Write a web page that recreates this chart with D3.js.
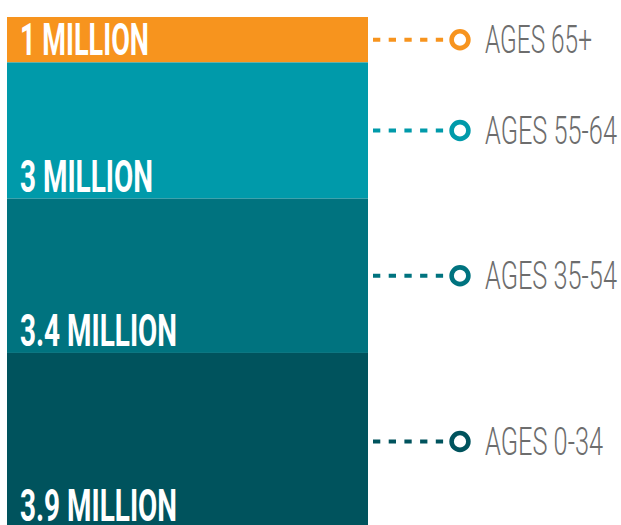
<!DOCTYPE html>
<html><head><meta charset="utf-8">
<script src="https://cdn.jsdelivr.net/npm/d3@7"></script>
<style>html,body{margin:0;padding:0;background:#fff;overflow:hidden}</style>
</head><body>
<svg id="c" width="621" height="525"></svg>
<script>
const groups = ["AGES 65+", "AGES 55-64", "AGES 35-54", "AGES 0-34"];
const values = [1, 3, 3.4, 3.9];
const valueLabels = ["1 MILLION", "3 MILLION", "3.4 MILLION", "3.9 MILLION"];
const colors = ["#F7941E", "#009AAA", "#00737F", "#00535D"];
const labelWidths = [129, 133, 157, 157];
const legendWidths = [107, 132, 132, 118];

const svg = d3.select("#c");
const total = d3.sum(values);
const ends = Array.from(d3.cumsum(values));
const starts = ends.map((e, i) => e - values[i]);
const y = d3.scaleLinear().domain([0, total]).range([17, 530]);
const x0 = 7, x1 = 368;

function condense(sel, widths) {
  sel.each(function(d, i) {
    const t = d3.select(this);
    const w = this.getComputedTextLength();
    const sx = widths[i] / w;
    t.attr("transform", `translate(${t.attr("data-x")},${t.attr("data-y")}) scale(${sx},1)`);
  });
}

const g = svg.append("g");
g.selectAll("rect").data(values).join("rect")
  .attr("x", x0).attr("width", x1 - x0)
  .attr("y", (d, i) => y(starts[i]))
  .attr("height", (d, i) => y(ends[i]) - y(starts[i]))
  .attr("fill", (d, i) => colors[i]);

g.selectAll("text.val").data(valueLabels).join("text")
  .attr("class", "val")
  .attr("data-x", 20)
  .attr("data-y", (d, i) => Math.min(y(ends[i]) - 7, 521))
  .attr("fill", "#fff")
  .attr("font-family", "Roboto, 'DejaVu Sans Condensed', sans-serif")
  .attr("font-weight", 700)
  .attr("font-size", 44)
  .text(d => d)
  .call(condense, labelWidths);

const leg = svg.append("g").selectAll("g").data(groups).join("g")
  .attr("transform", (d, i) => `translate(0,${(y(starts[i]) + y(ends[i])) / 2})`);

leg.append("line")
  .attr("x1", 373).attr("x2", 451).attr("y1", 0).attr("y2", 0)
  .attr("stroke", (d, i) => colors[i])
  .attr("stroke-width", 4)
  .attr("stroke-dasharray", "7.3,8.4");

leg.append("circle")
  .attr("cx", 460).attr("cy", 0).attr("r", 8.4)
  .attr("fill", "#fff")
  .attr("stroke", (d, i) => colors[i])
  .attr("stroke-width", 4.6);

leg.append("text")
  .attr("data-x", 485).attr("data-y", 13.5)
  .attr("fill", "#6d6d6d")
  .attr("font-family", "Roboto, sans-serif")
  .attr("font-weight", 300)
  .attr("font-size", 39)
  .text(d => d)
  .call(condense, legendWidths);
</script>
</body></html>
